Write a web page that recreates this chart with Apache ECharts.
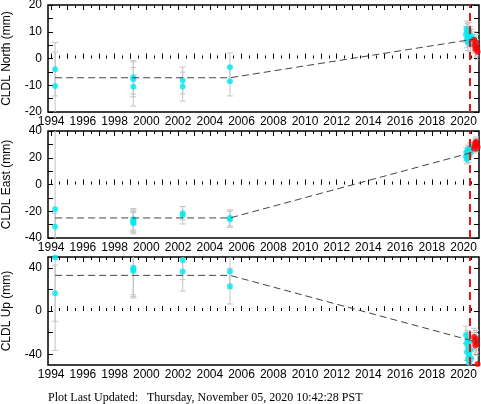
<!DOCTYPE html>
<html><head><meta charset="utf-8">
<script src="https://cdn.jsdelivr.net/npm/echarts@6/dist/echarts.min.js"></script>
<style>html,body{margin:0;padding:0;background:#fff}#c{width:481px;height:404px}</style>
</head><body><div id="c"></div>
<script>
// ---- data ----
const xTickLabels = [1994,1996,1998,2000,2002,2004,2006,2008,2010,2012,2014,2016,2018,2020];
const eventYear = 2020.39;

// campaign epochs (years)
const northT = [1994.25,1994.25,1999.18,1999.18,1999.18,2002.29,2002.29,2005.27,2005.27];
const northV = [-4.0,-10.3,-7.0,-7.8,-10.6,-8.2,-10.5,-3.3,-8.5];
const northE = [10,12.7,6.3,6.5,7.2,5,5.4,5.4,5.5];

const eastT = [1994.25,1994.25,1999.18,1999.18,1999.18,1999.18,2002.29,2002.29,2005.27,2005.27];
const eastV = [-18.5,-31.5,-26,-27,-28,-29,-21.5,-23,-25,-26];
const eastE = [80,10,8,8,8,8,5,6.5,6,6];

const upT = [1994.25,1994.25,1999.18,1999.18,1999.18,2002.29,2002.29,2005.27,2005.27];
const upV = [49.5,16.5,37,38.5,40,47,36.5,36.5,23];
const upE = [86,26,25,25,25,18,18,16,16.5];

// continuous data before event (cyan) and after (red)
const recentT = [2020.15,2020.18,2020.21,2020.24,2020.27,2020.30,2020.33,2020.36,2020.40,2020.44,2020.48];
const recentN = [9,11,7,10,6,8.5,10.5,7.5,9,5.5,8];
const recentE = [21,24,19,23,26,20,25,22,27,24,28];
const recentU = [-22,-30,-38,-26,-45,-34,-41,-48,-28,-36,-44];
const postT = [2020.66,2020.70,2020.74,2020.78,2020.82,2020.88];
const postN = [7,5,3.5,6,4,2.5];
const postE = [27,29,31,32,30,28];
const postU = [-24,-28,-32,-26,-30,-49];
const recentErrN = 3, recentErrE = 3.5, recentErrU = 8;

// model (dashed) lines
const modelT = [1994.25,2005.27,2020.39,2020.95];
const modelN = [-7.2,-7.2,7.0,7.4];
const modelE = [-25,-25,23.5,25.5];
const modelU = [33,33,-27,-29];

// ---- build ----
const XMIN = 1993.8, XMAX = 2020.97;
const grids = [
  {top:5, height:107},
  {top:131, height:107},
  {top:257, height:108}
];
const yCfg = [
  {name:'CLDL North (mm)', min:-20, max:20, labels:[-20,-10,0,10,20], ticks:[-20,-15,-10,-5,0,5,10,15,20]},
  {name:'CLDL East (mm)', min:-40, max:40, labels:[-40,-20,0,20,40], ticks:[-40,-30,-20,-10,0,10,20,30,40]},
  {name:'CLDL Up (mm)', min:-50, max:50, labels:[-40,0,40], ticks:[-40,-20,0,20,40]}
];
const yearTicks = []; for (let y=1994;y<=2020;y++) yearTicks.push(y);
const halfTicks = []; for (let y=1994;y<=2020.5;y+=0.5) halfTicks.push(y);

const font = 'Liberation Sans';
const option = {animation:false, grid:[], xAxis:[], yAxis:[], series:[],
  graphic:[{type:'text', left:48, top:392, style:{text:'Plot Last Updated:   Thursday, November 05, 2020 10:42:28 PST', font:'12px "Liberation Serif"', fill:'#000'}}]};

function zipArr(t,v,e){return t.map((x,i)=>e?[x,v[i],e[i]]:[x,v[i]]);}
function errRender(params, api){
  const x=api.value(0), y=api.value(1), e=api.value(2);
  const a=api.coord([x,y+e]), b=api.coord([x,y-e]);
  const w=3, st={stroke:'#c4c4c4', lineWidth:1};
  return {type:'group', children:[
    {type:'line', shape:{x1:a[0],y1:a[1],x2:b[0],y2:b[1]}, style:st},
    {type:'line', shape:{x1:a[0]-w,y1:a[1],x2:a[0]+w,y2:a[1]}, style:st},
    {type:'line', shape:{x1:b[0]-w,y1:b[1],x2:b[0]+w,y2:b[1]}, style:st}
  ]};
}
const plain = v => String(Math.round(v));

const panels = [
  {t:northT,v:northV,e:northE,rN:recentN,pN:postN,err:recentErrN,m:modelN},
  {t:eastT,v:eastV,e:eastE,rN:recentE,pN:postE,err:recentErrE,m:modelE},
  {t:upT,v:upV,e:upE,rN:recentU,pN:postU,err:recentErrU,m:modelU}
];

panels.forEach((p,i)=>{
  option.grid.push({left:48, right:2, top:grids[i].top, height:grids[i].height, show:true, borderColor:'#000', borderWidth:1.5, backgroundColor:'#fff', containLabel:false, outerBoundsMode:'none'});
  const xi = option.xAxis.length;
  option.xAxis.push({type:'value', gridIndex:i, min:XMIN, max:XMAX, position:'bottom',
    axisLine:{show:false}, splitLine:{show:false},
    axisTick:{show:true, inside:true, length:5, customValues:yearTicks, lineStyle:{color:'#000'}},
    axisLabel:{show:true, customValues:xTickLabels, formatter:plain, margin:4, fontFamily:font, fontSize:12, color:'#000', hideOverlap:false}});
  option.xAxis.push({type:'value', gridIndex:i, min:XMIN, max:XMAX, position:'bottom',
    axisLine:{show:false}, splitLine:{show:false}, axisLabel:{show:false},
    axisTick:{show:true, inside:true, length:3, customValues:halfTicks, lineStyle:{color:'#000'}}});
  option.xAxis.push({type:'value', gridIndex:i, min:XMIN, max:XMAX, position:'top',
    axisLine:{show:false}, splitLine:{show:false}, axisLabel:{show:false},
    axisTick:{show:true, inside:true, length:5, customValues:yearTicks, lineStyle:{color:'#000'}}});
  option.xAxis.push({type:'value', gridIndex:i, min:XMIN, max:XMAX, position:'top',
    axisLine:{show:false}, splitLine:{show:false}, axisLabel:{show:false},
    axisTick:{show:true, inside:true, length:3, customValues:halfTicks, lineStyle:{color:'#000'}}});
  const yi = option.yAxis.length;
  const c = yCfg[i];
  option.yAxis.push({type:'value', gridIndex:i, min:c.min, max:c.max, position:'left',
    name:c.name, nameLocation:'middle', nameGap:35, nameRotate:90,
    nameTextStyle:{fontFamily:font, fontSize:12, color:'#000'},
    axisLine:{show:false}, splitLine:{show:false},
    axisTick:{show:true, inside:true, length:5, customValues:c.ticks, lineStyle:{color:'#000'}},
    axisLabel:{show:true, customValues:c.labels, formatter:plain, margin:6, fontFamily:font, fontSize:12, color:'#000'}});
  option.yAxis.push({type:'value', gridIndex:i, min:c.min, max:c.max, position:'right',
    axisLine:{show:false}, splitLine:{show:false}, axisLabel:{show:false},
    axisTick:{show:true, inside:true, length:5, customValues:c.ticks, lineStyle:{color:'#000'}}});

  const recentErr = recentT.map((t,k)=>[t,p.rN[k],p.err]);
  const postErr = postT.map((t,k)=>[t,p.pN[k],p.err]);
  option.series.push({type:'custom', xAxisIndex:xi, yAxisIndex:yi, clip:true, renderItem:errRender,
    data: zipArr(p.t,p.v,p.e).concat(recentErr, postErr), z:1});
  option.series.push({type:'scatter', xAxisIndex:xi, yAxisIndex:yi, symbol:'circle', symbolSize:6, clip:true,
    itemStyle:{color:'#00e8f0'}, data: zipArr(p.t,p.v).concat(zipArr(recentT,p.rN)), z:2});
  option.series.push({type:'scatter', xAxisIndex:xi, yAxisIndex:yi, symbol:'circle', symbolSize:6, clip:true,
    itemStyle:{color:'#ff0000'}, data: zipArr(postT,p.pN), z:3});
  option.series.push({type:'line', xAxisIndex:xi, yAxisIndex:yi, showSymbol:false, symbol:'none', clip:true,
    lineStyle:{color:'#444', width:1, type:[7,4]}, data: zipArr(modelT,p.m), z:4,
    markLine:{silent:true, symbol:'none', label:{show:false},
      lineStyle:{color:'#ee1111', width:2, type:[8,5]}, data:[{xAxis:eventYear}]}});
});

const chart = echarts.init(document.getElementById('c'), null, {renderer:'canvas'});
chart.setOption(option);
</script></body></html>
